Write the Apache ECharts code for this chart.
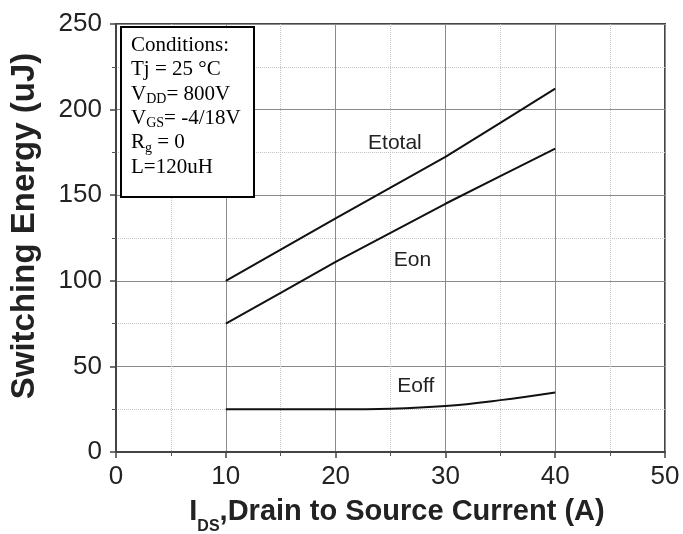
<!DOCTYPE html>
<html>
<head>
<meta charset="utf-8">
<script src="https://cdn.jsdelivr.net/npm/echarts@6/dist/echarts.min.js"></script>
<style>
  html, body { margin: 0; padding: 0; background: #fff; }
  #chart { width: 683px; height: 534px; }
</style>
</head>
<body>
<div id="chart"></div>
<script>
// drain to source current (A)
const currents = [10, 15, 20, 25, 30, 35, 40]
// switching energy (uJ)
const etotal = [100, 118.2, 136.4, 154.4, 172.4, 192.3, 212.3]
const eon = [75, 93, 111, 128, 145, 161.2, 177.2]
const eoff = [25, 25, 25, 25.3, 26.8, 30.3, 34.8]
// curve names and where they sit, in data units
const curveLabels = [
  ['Etotal', 25.4, 180.4],
  ['Eon', 27.0, 111.8],
  ['Eoff', 27.3, 38.4]
]
// test conditions, {s|..} is a subscript
const conditions = [
  'Conditions:',
  'Tj = 25 °C',
  'V{s|DD}= 800V',
  'V{s|GS}= -4/18V',
  'R{s|g} = 0',
  'L=120uH'
]

const pairs = ys => currents.map((x, i) => [x, ys[i]])
const sans = 'Liberation Sans, Arial, sans-serif'
const serif = 'Liberation Serif, Times New Roman, serif'

const axisCommon = {
  type: 'value',
  axisLine: { show: true, lineStyle: { color: '#444', width: 2 } },
  axisTick: { show: true, length: 6, lineStyle: { color: '#444', width: 1.5 } },
  minorTick: { show: true, splitNumber: 2, length: 4, lineStyle: { color: '#555', width: 1 } },
  splitLine: { show: true, lineStyle: { color: '#8a8a8a', width: 1 } },
  minorSplitLine: { show: true, lineStyle: { color: '#c4c4c4', width: 1, type: 'dotted' } },
  axisLabel: { color: '#222', fontSize: 26, fontFamily: sans }
}

const lineSeries = (name, ys, smooth) => ({
  name: name,
  type: 'line',
  data: pairs(ys),
  showSymbol: false,
  smooth: smooth,
  lineStyle: { color: '#111', width: 2 },
  silent: true
})

const chart = echarts.init(document.getElementById('chart'))
chart.setOption({
  animation: false,
  backgroundColor: '#fff',
  grid: {
    left: 116, right: 18, top: 24, bottom: 82,
    show: true, borderColor: '#444', borderWidth: 2,
    containLabel: false, outerBoundsMode: 'none'
  },
  xAxis: Object.assign({}, axisCommon, {
    min: 0, max: 50, interval: 10,
    axisLabel: Object.assign({}, axisCommon.axisLabel, { margin: 12 })
  }),
  yAxis: Object.assign({}, axisCommon, {
    min: 0, max: 250, interval: 50,
    axisLabel: Object.assign({}, axisCommon.axisLabel, { margin: 14 })
  }),
  series: [
    lineSeries('Etotal', etotal, false),
    lineSeries('Eon', eon, false),
    lineSeries('Eoff', eoff, 0.4)
  ]
})

const graphics = curveLabels.map(([name, x, y]) => {
  const p = chart.convertToPixel({ gridIndex: 0 }, [x, y])
  return {
    type: 'text', x: p[0], y: p[1], z: 10,
    style: { text: name, fill: '#222', font: '21px ' + sans, align: 'center', verticalAlign: 'middle' }
  }
})

// y axis title
graphics.push({
  type: 'text', x: 25, y: 226, rotation: Math.PI / 2, z: 10,
  style: {
    text: 'Switching Energy (uJ)', fill: '#222',
    font: 'bold 33px ' + sans, align: 'center', verticalAlign: 'middle'
  }
})

// x axis title
graphics.push({
  type: 'text', x: 397, y: 497, z: 10,
  style: {
    text: '{b|I}{s|DS}{b|,Drain to Source Current (A)}',
    align: 'center', verticalAlign: 'top',
    rich: {
      b: { fontFamily: sans, fontWeight: 'bold', fontSize: 29, lineHeight: 30, verticalAlign: 'top', fill: '#222' },
      s: { fontFamily: sans, fontWeight: 'bold', fontSize: 16, lineHeight: 16, padding: [22, 0, 0, 0], verticalAlign: 'top', fill: '#222' }
    }
  }
})

// conditions box
graphics.push({
  type: 'rect', z: 20,
  shape: { x: 121, y: 27, width: 133, height: 170 },
  style: { fill: '#fff', stroke: '#000', lineWidth: 2 }
})
graphics.push({
  type: 'text', x: 131, y: 33, z: 21,
  style: {
    text: conditions.map(l => l.replace(/^([^{]*)(\{s\|[^}]*\})?(.*)$/, (m, a, s, b) =>
      '{n|' + a + '}' + (s || '') + (b ? '{n|' + b + '}' : ''))).join('\n'),
    align: 'left', verticalAlign: 'top',
    rich: {
      n: { fontFamily: serif, fontSize: 21, lineHeight: 24.4, verticalAlign: 'middle', fill: '#000' },
      s: { fontFamily: serif, fontSize: 14, lineHeight: 12, verticalAlign: 'bottom', fill: '#000' }
    }
  }
})

chart.setOption({ graphic: graphics })
</script>
</body>
</html>
